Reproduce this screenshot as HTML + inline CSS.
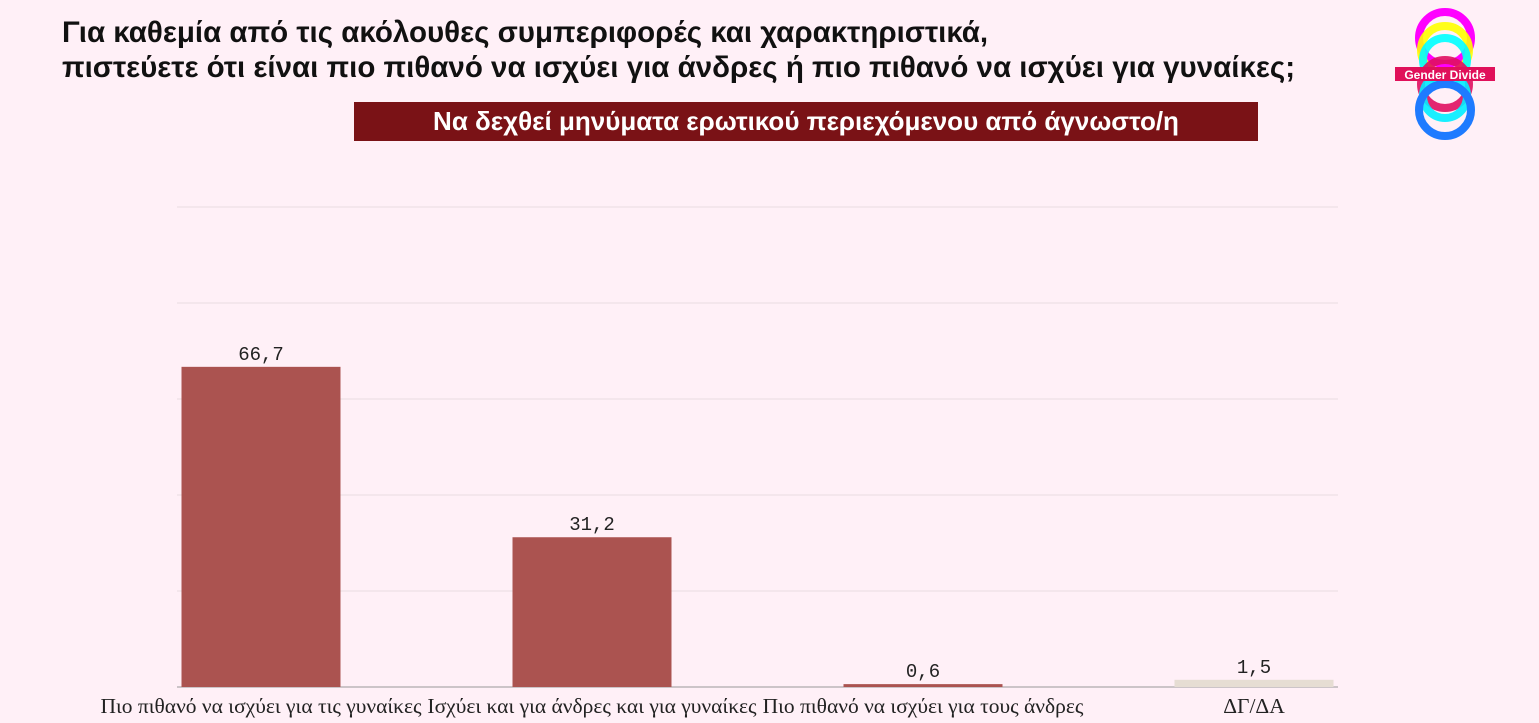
<!DOCTYPE html>
<html><head><meta charset="utf-8"><style>
body{margin:0;width:1539px;height:723px;background:#fff0f7;overflow:hidden;font-family:"Liberation Sans",sans-serif;position:relative}
.t{position:absolute;left:62px;top:15px;font-size:29.5px;font-weight:bold;color:#111;line-height:35px;white-space:nowrap}
.sub{position:absolute;left:354px;top:102px;width:904px;height:39px;background:#7a1216;color:#fff;font-size:26px;font-weight:bold;text-align:center;line-height:39px}
</style></head><body>
<div class="t">Για καθεμία από τις ακόλουθες συμπεριφορές και χαρακτηριστικά,<br>πιστεύετε ότι είναι πιο πιθανό να ισχύει για άνδρες ή πιο πιθανό να ισχύει για γυναίκες;</div>
<div class="sub">Να δεχθεί μηνύματα ερωτικού περιεχόμενου από άγνωστο/η</div>
<svg width="120" height="150" style="position:absolute;left:1385px;top:0">
<g fill="none" stroke-width="8">
<circle cx="60" cy="38" r="26" stroke="#f0f"/>
<circle cx="60" cy="50" r="24" stroke="#ff0" opacity=".9"/>
<circle cx="60" cy="60" r="22" stroke="#0ff" opacity=".9"/>
<circle cx="60" cy="84" r="24" stroke="#e01060" opacity=".9"/>
<circle cx="60" cy="96" r="22" stroke="#0ef" opacity=".9"/>
<circle cx="60" cy="110" r="26" stroke="#1e7bff"/>
</g>
<rect x="10" y="67" width="100" height="14" fill="#e0105a"/>
<text x="60" y="79" fill="#fff" font-size="12" font-weight="bold" text-anchor="middle" font-family="Liberation Sans">Gender Divide</text>
</svg>
<svg id="c" width="1539" height="723" style="position:absolute;left:0;top:0"></svg>
<script>
const categories=["Πιο πιθανό να ισχύει για τις γυναίκες","Ισχύει και για άνδρες και για γυναίκες","Πιο πιθανό να ισχύει για τους άνδρες","ΔΓ/ΔΑ"];
const values=[66.7,31.2,0.6,1.5];
const labels=["66,7","31,2","0,6","1,5"];
const colors=["#ab5350","#ab5350","#ab5350","#e6ddd3"];
const gridTicks=[0,20,40,60,80,100];
const svg=document.getElementById('c');const NS='http://www.w3.org/2000/svg';
const y0=687,pxPer=4.8,left=95.5,band=331,bw=159;
const y=v=>y0-v*pxPer;const xc=i=>left+(i+0.5)*band;
function mk(t,a){const e=document.createElementNS(NS,t);for(const k in a)e.setAttribute(k,a[k]);svg.appendChild(e);return e;}
gridTicks.forEach(t=>{const l=mk('line',{x1:177,x2:1338,y1:y(t),y2:y(t),stroke:t?'#e8dde2':'#999','stroke-width':1});

});
values.forEach((v,i)=>{const r=mk('rect',{x:xc(i)-bw/2,y:y(v),width:bw,height:v*pxPer,fill:colors[i]});


const t=mk('text',{x:xc(i),y:y(v)-7,'text-anchor':'middle','font-size':19,fill:'#222','font-family':'Liberation Mono, monospace'});t.textContent=labels[i];


const c=mk('text',{x:xc(i),y:713,'text-anchor':'middle','font-size':21.5,fill:'#222','font-family':'Liberation Serif, serif'});c.textContent=categories[i];

});
</script>
</body></html>
